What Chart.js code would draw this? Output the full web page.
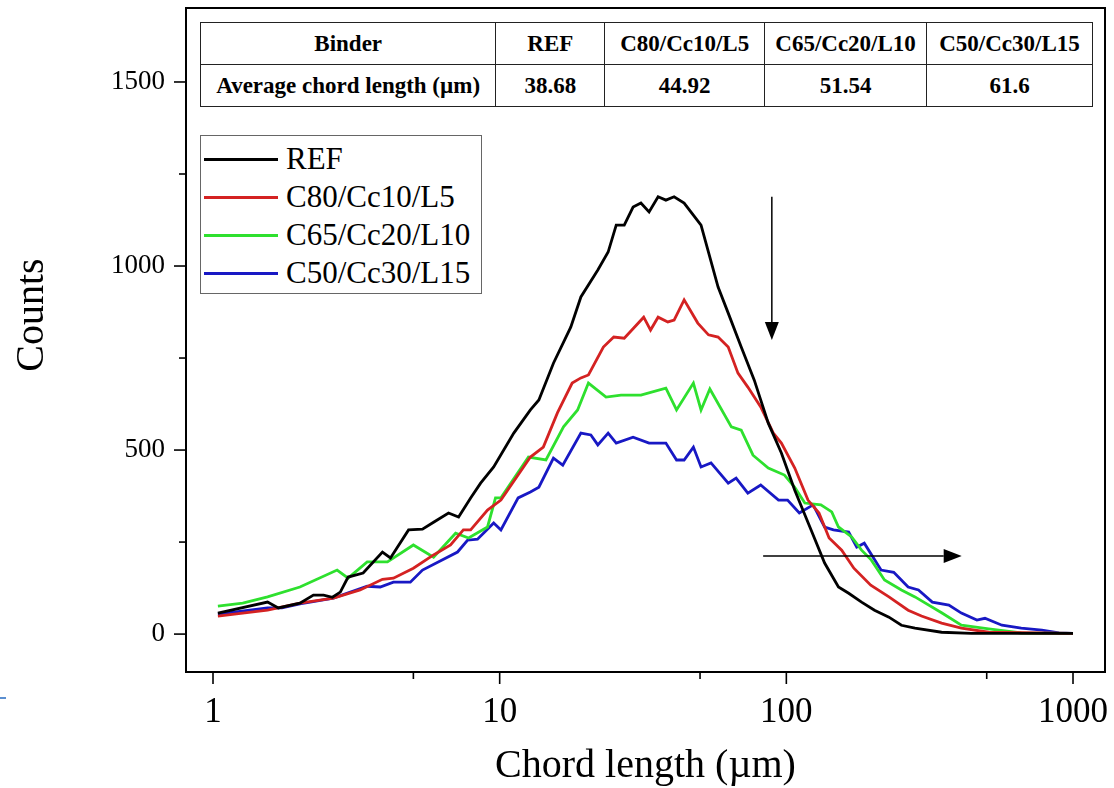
<!DOCTYPE html>
<html lang="en">
<head>
  <meta charset="UTF-8">
  <title>Chord length distribution</title>
  <script src="https://cdn.jsdelivr.net/npm/chart.js"></script>
  <style>
    * { box-sizing: border-box; margin:0; padding:0; }
    body { background:#fff; font-family:'Liberation Serif','Times New Roman',serif; }
    #wrap { position:relative; width:1114px; height:788px; }
    #tabla {
      position:absolute; left:200px; top:22px; width:893px; height:84px;
      border-collapse:collapse; font-weight:bold; font-size:23px; text-align:center; background:#fff;
    }
    #tabla td { border:1px solid #222; height:42px; }
    #leyenda {
      position:absolute; left:200px; top:135px; width:282px; height:159px;
      border:1px solid #666; background:#fff;
    }
    .item { position:absolute; left:3px; height:38px; font-size:31px; line-height:38px; white-space:nowrap; }
    .item span.linea { display:inline-block; width:74px; height:3px; vertical-align:middle; margin-right:8px; position:relative; top:-2px; }
    #marca { position:absolute; left:0; top:697px; width:6px; height:2px; background:#5b8fd0; }
  </style>
</head>
<body>
<div id="wrap">
  <canvas id="grafica"></canvas>
  <table id="tabla"></table>
  <div id="leyenda"></div>
  <div id="marca"></div>
</div>

<script>
// series (chord length in µm, counts)
const refX = [1.04,1.55,1.69,2.01,2.24,2.43,2.61,2.78,2.96,3.34,3.90,4.16,4.81,5.38,5.88,6.63,7.19,7.92,8.58,9.53,11.2,12.8,13.7,15.4,17.7,19.2,22.0,23.9,25.5,27.2,29.2,31.1,33.2,35.7,38.0,40.6,44.0,50.4,57.8,62.7,69.6,77.3,86.5,96.1,107,122,136,152,165,183,203,228,252,281,348,443,1000];
const refY = [57,87,71,84,106,106,100,114,155,166,223,207,283,285,304,329,318,370,410,454,546,609,636,736,834,916,989,1038,1111,1111,1160,1171,1147,1188,1179,1188,1171,1111,943,872,780,690,573,492,391,283,193,128,111,87,65,46,24,16,5,2,2];

const c80X = [1.04,1.55,2.01,2.63,3.26,3.90,4.26,5.00,5.88,6.74,7.47,7.92,9.07,10.1,12.8,14.2,15.9,17.9,19.2,20.4,23.0,25.0,27.2,31.8,33.6,35.7,38.6,40.6,44.0,49.1,53.5,57.8,62.7,67.8,73.4,81.4,90.1,96.1,107,119,130,141,156,172,197,228,266,296,348,408,508,1000];
const c80Y = [49,65,84,98,120,149,152,179,215,242,283,283,337,364,481,508,601,682,696,704,780,807,804,861,826,861,848,853,908,845,813,807,780,709,671,617,546,519,451,364,329,261,228,179,133,101,65,49,30,16,5,2];

const c65X = [1.04,1.27,1.55,2.01,2.71,2.96,3.45,4.06,5.00,5.88,7.02,7.79,9.07,9.67,10.1,12.6,14.5,16.7,18.7,20.4,23.5,26.5,31.1,38.0,41.4,47.4,50.4,54.1,64.3,69.6,76.5,86.5,98.5,107,116,132,144,152,169,183,198,220,252,281,348,408,508,660,1000];
const c65Y = [76,84,101,128,174,152,196,196,242,209,274,261,291,370,370,481,473,563,609,682,644,649,649,668,609,682,609,666,563,554,486,451,432,399,356,351,332,291,264,228,201,147,120,101,58,24,14,3,2];

const c50X = [1.04,1.55,1.74,2.01,2.63,3.45,3.83,4.26,4.88,5.38,7.13,7.72,8.37,9.53,10.1,11.6,12.8,13.7,15.4,16.6,19.2,20.8,22.0,23.9,25.5,29.2,33.2,38.0,41.4,44.0,47.4,50.4,54.6,62.7,66.8,73.4,81.4,93.9,101,111,124,136,146,165,176,187,214,237,266,289,323,369,408,462,493,565,660,779,893,1000];
const c50Y = [54,71,71,82,98,130,128,141,141,174,223,255,258,302,283,370,386,399,478,459,546,541,514,546,519,535,519,519,473,473,508,454,465,410,424,383,405,364,364,329,351,291,283,277,236,247,174,168,128,120,87,79,57,38,43,24,16,11,3,2];

const nombres = ['REF','C80/Cc10/L5','C65/Cc20/L10','C50/Cc30/L15'];
const colores = ['#000000','#d42222','#2ee02e','#1818c4'];

// table on top of the plot
const tablaCabecera = ['Binder','REF','C80/Cc10/L5','C65/Cc20/L10','C50/Cc30/L15'];
const tablaFila = ['Average chord length (µm)','38.68','44.92','51.54','61.6'];
const anchos = [296,109,160,162,166];

// axis ticks
const xMayores = [1,10,100,1000];
const xMenores = [5,50,500];
const yMayores = [0,500,1000,1500];
const yMenores = [250,750,1250];

// annotation arrows, in data units
const flechaAbajo = { x:89, y1:1188, y2:799 };
const flechaDerecha = { y:212, x1:83, x2:409 };

const serif = "'Liberation Serif','Times New Roman',serif";

// build table
const tabla = document.getElementById('tabla');
[tablaCabecera, tablaFila].forEach(fila => {
  const tr = document.createElement('tr');
  fila.forEach((t,i) => {
    const td = document.createElement('td');
    td.style.width = anchos[i]+'px';
    td.textContent = t;
    tr.appendChild(td);
  });
  tabla.appendChild(tr);
});

// build legend
const leyenda = document.getElementById('leyenda');
nombres.forEach((n,i) => {
  const d = document.createElement('div');
  d.className = 'item';
  d.style.top = (4 + i*38)+'px';
  d.innerHTML = '<span class="linea" style="background:'+colores[i]+'"></span>'+n;
  leyenda.appendChild(d);
});

const puntos = (xs, ys) => xs.map((x,i) => ({x:x, y:ys[i]}));
const series = [[refX,refY],[c80X,c80Y],[c65X,c65Y],[c50X,c50Y]];

const flecha = (ctx, x1, y1, x2, y2) => {
  const ang = Math.atan2(y2-y1, x2-x1), L = 18, W = 7;
  const bx = x2 - L*Math.cos(ang), by = y2 - L*Math.sin(ang);
  ctx.beginPath(); ctx.moveTo(x1,y1); ctx.lineTo(bx,by); ctx.stroke();
  ctx.beginPath();
  ctx.moveTo(x2,y2);
  ctx.lineTo(bx + W*Math.sin(ang), by - W*Math.cos(ang));
  ctx.lineTo(bx - W*Math.sin(ang), by + W*Math.cos(ang));
  ctx.closePath(); ctx.fill();
};

const marco = {
  id:'marco',
  afterDraw(chart){
    const ctx = chart.ctx, a = chart.chartArea;
    const sx = chart.scales.x, sy = chart.scales.y;
    ctx.save();
    ctx.strokeStyle = '#000'; ctx.fillStyle = '#000';
    ctx.lineWidth = 2;
    ctx.strokeRect(a.left, a.top, a.right-a.left, a.bottom-a.top);
    ctx.lineWidth = 1.6;
    xMayores.forEach(v => { const p = sx.getPixelForValue(v); ctx.beginPath(); ctx.moveTo(p,a.bottom); ctx.lineTo(p,a.bottom+12); ctx.stroke(); });
    xMenores.forEach(v => { const p = sx.getPixelForValue(v); ctx.beginPath(); ctx.moveTo(p,a.bottom); ctx.lineTo(p,a.bottom+7); ctx.stroke(); });
    yMayores.forEach(v => { const p = sy.getPixelForValue(v); ctx.beginPath(); ctx.moveTo(a.left,p); ctx.lineTo(a.left-12,p); ctx.stroke(); });
    yMenores.forEach(v => { const p = sy.getPixelForValue(v); ctx.beginPath(); ctx.moveTo(a.left,p); ctx.lineTo(a.left-7,p); ctx.stroke(); });

    ctx.lineWidth = 1.5;
    const ax = sx.getPixelForValue(flechaAbajo.x);
    flecha(ctx, ax, sy.getPixelForValue(flechaAbajo.y1), ax, sy.getPixelForValue(flechaAbajo.y2));
    const ry = sy.getPixelForValue(flechaDerecha.y);
    flecha(ctx, sx.getPixelForValue(flechaDerecha.x1), ry, sx.getPixelForValue(flechaDerecha.x2), ry);

    // axis titles
    ctx.font = '40px ' + serif;
    ctx.textAlign = 'center'; ctx.textBaseline = 'middle';
    ctx.fillText('Chord length (µm)', (a.left+a.right)/2, 766);
    ctx.translate(32, 315); ctx.rotate(-Math.PI/2);
    ctx.fillText('Counts', 0, 0);
    ctx.restore();
  }
};

new Chart(document.getElementById('grafica'), {
  type:'line',
  data:{
    datasets: series.map((s,i) => ({
      label:nombres[i], data:puntos(s[0], s[1]),
      borderColor:colores[i], borderWidth:2.8, pointRadius:0, tension:0, fill:false
    }))
  },
  options:{
    responsive:true, maintainAspectRatio:false, animation:false,
    layout:{ padding:{ top:8, right:9, left:0, bottom:0 } },
    plugins:{ legend:{display:false}, tooltip:{enabled:false} },
    scales:{
      x:{
        type:'logarithmic', min:0.805, max:1293,
        afterFit(s){ s.height = 116; s.paddingLeft = 0; s.paddingRight = 0; },
        afterBuildTicks(s){ s.ticks = xMayores.map(v => ({value:v})); },
        grid:{ display:false, drawTicks:false },
        border:{ display:false },
        ticks:{ color:'#000', padding:20, maxRotation:0, autoSkip:false,
                font:{ family:serif, size:35 }, callback:v => String(v) }
      },
      y:{
        min:-103, max:1701,
        afterFit(s){ s.width = 186; s.paddingTop = 0; s.paddingBottom = 0; },
        afterBuildTicks(s){ s.ticks = yMayores.map(v => ({value:v})); },
        grid:{ display:false, drawTicks:false },
        border:{ display:false },
        ticks:{ color:'#000', padding:21, font:{ family:serif, size:27 }, callback:v => String(v) }
      }
    }
  },
  plugins:[marco]
});
</script>
</body>
</html>
